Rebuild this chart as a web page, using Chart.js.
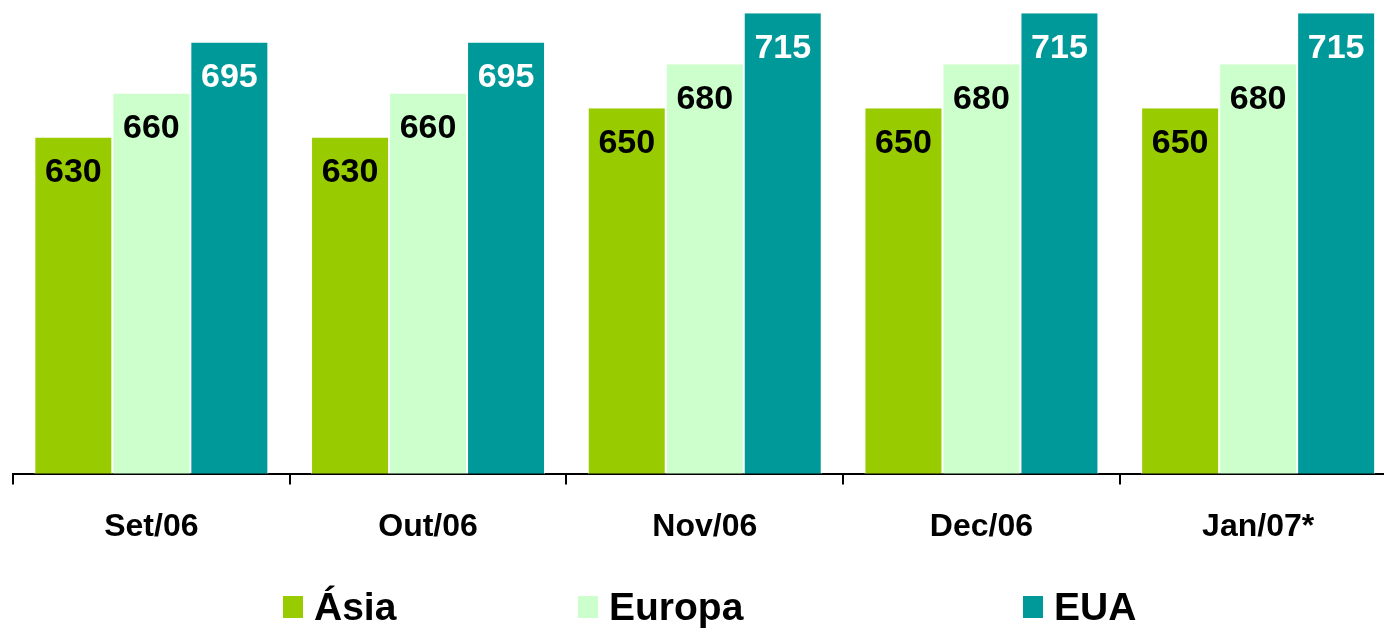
<!DOCTYPE html>
<html>
<head>
<meta charset="utf-8">
<script src="https://cdn.jsdelivr.net/npm/chart.js@4/dist/chart.umd.min.js"></script>
<style>
  html, body { margin: 0; padding: 0; background: #fff; overflow: hidden; }
  #wrap { position: relative; width: 1400px; height: 630px; }
</style>
</head>
<body>
<div id="wrap"><canvas id="c"></canvas></div>
<script>
const categories = ["Set/06", "Out/06", "Nov/06", "Dec/06", "Jan/07*"];
const seriesNames = ["Ásia", "Europa", "EUA"];
const asia = [630, 630, 650, 650, 650];
const europa = [660, 660, 680, 680, 680];
const eua = [695, 695, 715, 715, 715];

const colors = ["#99CC00", "#CCFFCC", "#009999"];
const labelColors = ["#000000", "#000000", "#FFFFFF"];
const FONT = "'Liberation Sans', Arial, Helvetica, sans-serif";

const valueLabels = {
  id: "valueLabels",
  afterDatasetsDraw(chart) {
    const ctx = chart.ctx;
    ctx.save();
    ctx.font = "bold 34px " + FONT;
    ctx.textAlign = "center";
    ctx.textBaseline = "middle";
    chart.data.datasets.forEach((ds, i) => {
      const meta = chart.getDatasetMeta(i);
      meta.data.forEach((bar, j) => {
        ctx.fillStyle = labelColors[i];
        ctx.fillText(String(ds.data[j]), bar.x, bar.y + 35);
      });
    });
    ctx.restore();
  }
};

const legendX = [283, 578, 1023];
const customLegend = {
  id: "customLegend",
  afterDraw(chart) {
    const ctx = chart.ctx;
    ctx.save();
    ctx.font = "bold 39px " + FONT;
    ctx.textBaseline = "middle";
    ctx.textAlign = "left";
    chart.data.datasets.forEach((ds, i) => {
      const x = legendX[i];
      const yc = 607;
      ctx.fillStyle = ds.backgroundColor;
      ctx.fillRect(x, yc - 11, 20, 22);
      ctx.fillStyle = "#000";
      ctx.fillText(ds.label, x + 31, yc + 2);
    });
    ctx.restore();
  }
};

new Chart(document.getElementById("c"), {
  type: "bar",
  data: {
    labels: categories,
    datasets: [
      { label: seriesNames[0], data: asia, backgroundColor: colors[0] },
      { label: seriesNames[1], data: europa, backgroundColor: colors[1] },
      { label: seriesNames[2], data: eua, backgroundColor: colors[2] }
    ].map(d => Object.assign(d, {
      borderColor: "#FFFFFF",
      borderWidth: { left: 1, right: 1, top: 0, bottom: 0 },
      borderSkipped: false,
      categoryPercentage: 0.8457,
      barPercentage: 1.0
    }))
  },
  options: {
    responsive: true,
    maintainAspectRatio: false,
    animation: false,
    devicePixelRatio: 1,
    layout: { padding: { left: 13, right: 3.5, top: 0, bottom: 61 } },
    plugins: {
      legend: { display: false },
      tooltip: { enabled: false },
      title: { display: false }
    },
    scales: {
      y: { display: false, min: 400, max: 724 },
      x: {
        border: { display: true, color: "#000", width: 2 },
        grid: { display: true, drawOnChartArea: false, drawTicks: true, tickLength: 11, color: "#000", lineWidth: 2, offset: true },
        ticks: { color: "#000", font: { family: FONT, size: 32, weight: "bold" }, padding: 23, maxRotation: 0 }
      }
    }
  },
  plugins: [valueLabels, customLegend]
});
</script>
</body>
</html>
